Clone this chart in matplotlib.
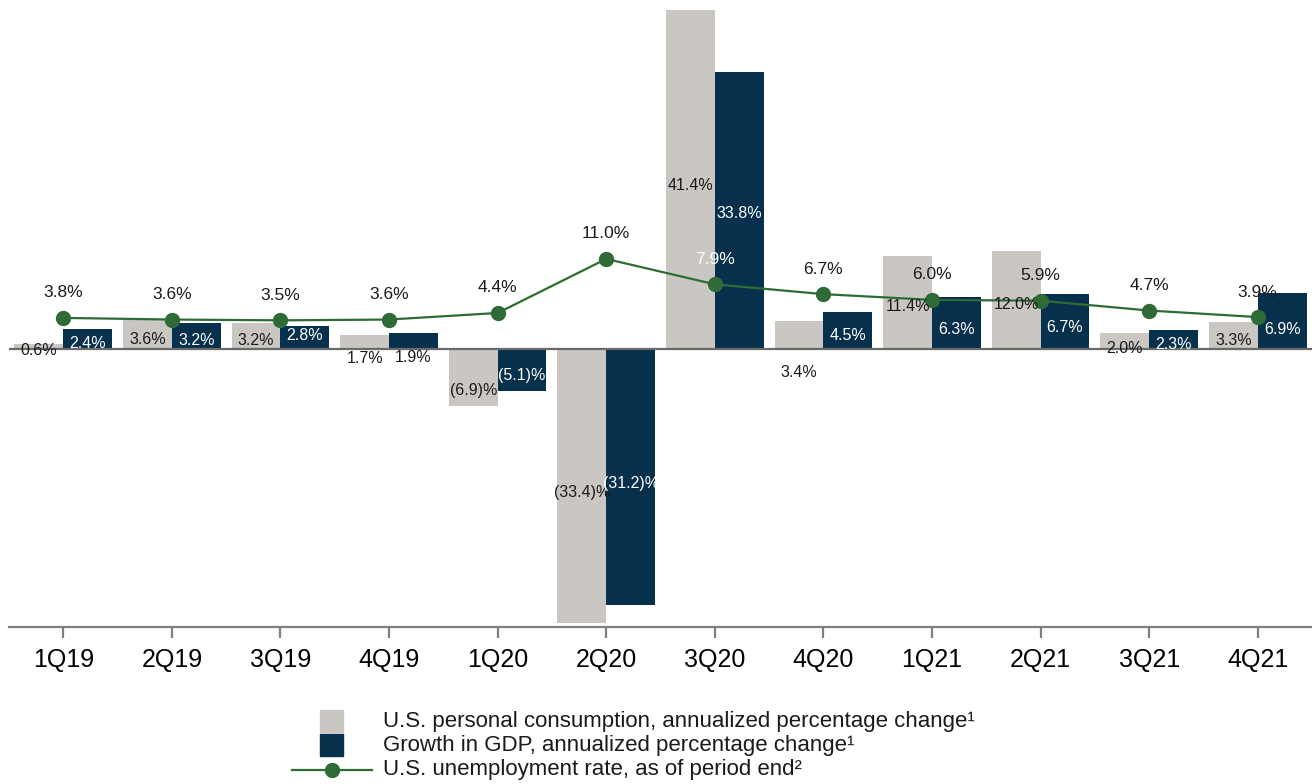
import matplotlib
matplotlib.use("Agg")
import matplotlib.pyplot as plt
from matplotlib.patches import Rectangle
from matplotlib.lines import Line2D
import numpy as np

plt.rcParams['font.family'] = ['Liberation Sans', 'DejaVu Sans']

# data
quarters = ['1Q19', '2Q19', '3Q19', '4Q19', '1Q20', '2Q20',
            '3Q20', '4Q20', '1Q21', '2Q21', '3Q21', '4Q21']
consumption = [0.6, 3.6, 3.2, 1.7, -6.9, -33.4, 41.4, 3.4, 11.4, 12.0, 2.0, 3.3]
gdp = [2.4, 3.2, 2.8, 1.9, -5.1, -31.2, 33.8, 4.5, 6.3, 6.7, 2.3, 6.9]
unemployment = [3.8, 3.6, 3.5, 3.6, 4.4, 11.0, 7.9, 6.7, 6.0, 5.9, 4.7, 3.9]

legend_labels = ['U.S. personal consumption, annualized percentage change\u00b9',
                 'Growth in GDP, annualized percentage change\u00b9',
                 'U.S. unemployment rate, as of period end\u00b2']

# label placement tweaks (shift from bar midpoint, in axis units)
cons_shift = [-0.5, -0.6, -0.6, -1.95, -1.55, -0.8, -0.8, -4.6, -0.5, -0.6, -0.9, -0.55]
gdp_shift = [-0.5, -0.5, 0.3, -1.95, -0.65, -0.8, -0.4, -0.55, -0.75, -0.75, -0.65, -1.05]

GRAY = '#cac7c2'
NAVY = '#06304b'
GREEN = '#2e6b36'
AXIS = '#7f7f7f'


def fmt(v):
    if v < 0:
        return f'({abs(v):.1f})%'
    return f'{v:.1f}%'


fig = plt.figure(figsize=(13.12, 7.84), dpi=100)
ax = fig.add_axes([9 / 1312, 0.2, 1 - 9 / 1312, 0.8])

x = np.arange(len(quarters))
w = 0.45

ax.bar(x - w / 2, consumption, w, color=GRAY, zorder=2)
ax.bar(x + w / 2, gdp, w, color=NAVY, zorder=2)
ax.axhline(0, color='#6a6a6a', lw=1.6, zorder=3)
ax.plot(x, unemployment, color=GREEN, lw=1.6, marker='o', markersize=10, zorder=4)

# bar value labels
for i in range(len(x)):
    ax.text(x[i] - w / 2, consumption[i] / 2 + cons_shift[i], fmt(consumption[i]),
            ha='center', va='center', fontsize=11.5, color='#1a1a1a', zorder=5)
    gcol = 'white' if gdp_shift[i] > -1.5 else '#1a1a1a'
    ax.text(x[i] + w / 2, gdp[i] / 2 + gdp_shift[i], fmt(gdp[i]),
            ha='center', va='center', fontsize=11.5, color=gcol, zorder=5)

# unemployment labels
for i in range(len(x)):
    col = 'white' if quarters[i] == '3Q20' else '#1a1a1a'
    ax.annotate(fmt(unemployment[i]), (x[i], unemployment[i]), xytext=(0, 18),
                textcoords='offset points', ha='center', va='center',
                fontsize=12.5, color=col, zorder=5)

ax.set_xlim(-0.5, len(x) - 0.5)
ax.set_ylim(-33.95, 42.6)
for s in ['top', 'right', 'left']:
    ax.spines[s].set_visible(False)
ax.spines['bottom'].set_color(AXIS)
ax.spines['bottom'].set_linewidth(1.6)
ax.set_yticks([])
ax.set_xticks(x)
ax.set_xticklabels(quarters, fontsize=18)
ax.tick_params(axis='x', length=8, width=1.6, color=AXIS, pad=7, direction='out')

# legend drawn by hand below the plot
W, H = 1312, 784
fig.add_artist(Rectangle((320 / W, 1 - 732 / H), 23 / W, 22 / H, color=GRAY,
                         transform=fig.transFigure))
fig.add_artist(Rectangle((320 / W, 1 - 756 / H), 23 / W, 22 / H, color=NAVY,
                         transform=fig.transFigure))
fig.add_artist(Line2D([292 / W, 372 / W], [1 - 770 / H, 1 - 770 / H], color=GREEN,
                      lw=1.6, transform=fig.transFigure))
fig.add_artist(Line2D([332 / W], [1 - 770 / H], color=GREEN, marker='o',
                      markersize=10, transform=fig.transFigure))
for lbl, ypx in zip(legend_labels, [722, 746, 770]):
    fig.text(383 / W, 1 - ypx / H, lbl, ha='left', va='center', fontsize=16,
             color='#1a1a1a')

fig.savefig('out.png', dpi=100)
